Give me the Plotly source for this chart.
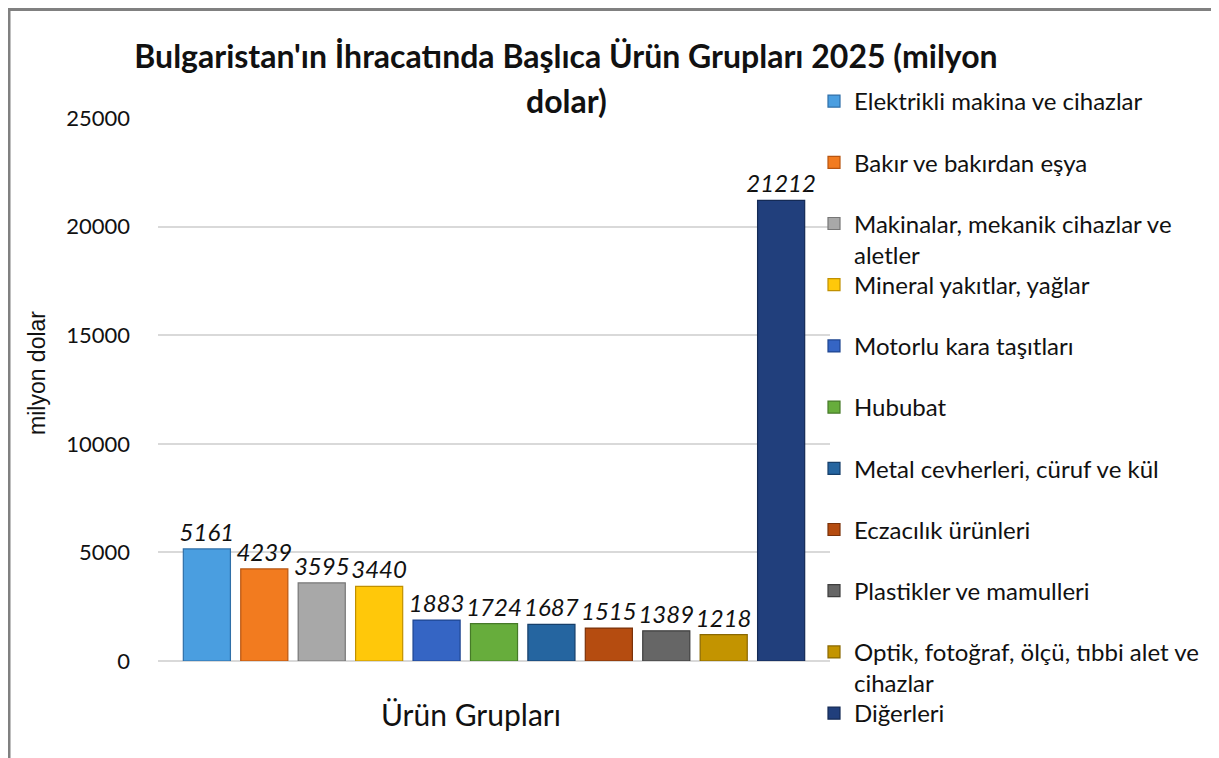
import plotly.graph_objects as go

# ---- data ----
categories = [
    "Elektrikli makina ve cihazlar",
    "Bakır ve bakırdan eşya",
    "Makinalar, mekanik cihazlar ve<br>aletler",
    "Mineral yakıtlar, yağlar",
    "Motorlu kara taşıtları",
    "Hububat",
    "Metal cevherleri, cüruf ve kül",
    "Eczacılık ürünleri",
    "Plastikler ve mamulleri",
    "Optik, fotoğraf, ölçü, tıbbi alet ve<br>cihazlar",
    "Diğerleri",
]
values = [5161, 4239, 3595, 3440, 1883, 1724, 1687, 1515, 1389, 1218, 21212]
group_label = ["Ürün Grupları"]
y_ticks = [0, 5000, 10000, 15000, 20000, 25000]
y_tick_text = ["0", "5000", "10000", "15000", "20000", "25000"]

title_line1 = "Bulgaristan'ın İhracatında Başlıca Ürün Grupları 2025 (milyon"
title_line2 = "dolar)"
y_title = "milyon dolar"

# ---- styles ----
colors = ["#4a9ee0", "#f27b1f", "#a8a8a8", "#ffc80a", "#3565c4", "#67ad3c",
          "#2565a0", "#b54c10", "#666666", "#c39400", "#213f7c"]
line_colors = ["#2f6fa8", "#b85510", "#767676", "#c09000", "#1e4590", "#467a28",
               "#163f6a", "#7a320a", "#3e3e3e", "#8a6800", "#142a55"]

OFF = 8                      # page body margin
W, H = 1219 - OFF, 758 - OFF
# plot area in screen pixels
SL, SR, ST, SB = 158, 830, 118, 661
font = "Lato, 'Open Sans', sans-serif"
black = "#111111"

def px_x(px):
    return (px - SL) / (SR - SL)

def px_y(py):
    return (SB - py) / (SB - ST)

fig = go.Figure()
legend_layout = {}
slot0, slot_step = 102, 61.2
for i, (name, v) in enumerate(zip(categories, values)):
    lg = "legend" if i == 0 else f"legend{i+1}"
    fig.add_trace(go.Bar(
        x=group_label, y=[v], name=name,
        marker=dict(color=colors[i], line=dict(color=line_colors[i], width=1.2)),
        text=[str(v)], textposition="outside", constraintext="none",
        textfont=dict(family=font, size=24, color=black, style="italic"),
        cliponaxis=False, legend=lg, showlegend=True,
    ))
    legend_layout[lg] = dict(
        x=px_x(814), y=px_y(slot0 + i * slot_step - 23),
        xanchor="left", yanchor="top", valign="top",
        bgcolor="rgba(0,0,0,0)", borderwidth=0,
        font=dict(family=font, size=24, color=black),
    )

fig.update_layout(
    width=W, height=H,
    margin=dict(l=SL - OFF, r=(W + OFF) - SR, t=ST - OFF, b=(H + OFF) - SB),
    paper_bgcolor="white", plot_bgcolor="white",
    barmode="group", bargap=0.06, bargroupgap=0.18,
    title=dict(text=f"<b>{title_line1}</b>", x=(566 - OFF) / W, xanchor="center",
               xref="container", y=1 - (57 - OFF) / H, yref="container",
               yanchor="middle",
               font=dict(family=font, size=32, color=black)),
    font=dict(family=font, color=black),
    **legend_layout,
)
fig.add_annotation(text=f"<b>{title_line2}</b>", xref="paper", yref="paper",
                   x=px_x(566), y=px_y(100), xanchor="center", yanchor="middle",
                   showarrow=False, font=dict(family=font, size=32, color=black))
fig.add_annotation(text=y_title, xref="paper", yref="paper", textangle=-90,
                   x=px_x(37), y=px_y(373), xanchor="center", yanchor="middle",
                   showarrow=False,
                   font=dict(family="'Liberation Sans', Arial, sans-serif",
                             size=23, color=black))
# category label under the bar group
fig.add_annotation(text=group_label[0], xref="paper", yref="paper",
                   x=px_x(471), y=px_y(714), xanchor="center", yanchor="middle",
                   showarrow=False, font=dict(family=font, size=30, color=black))

fig.update_yaxes(range=[0, 25000], tickvals=y_ticks, ticktext=y_tick_text,
                 showgrid=True, gridcolor="#d9d9d9", gridwidth=1.5, zeroline=True,
                 zerolinecolor="#d9d9d9", zerolinewidth=1.5, showline=False,
                 ticks="", ticklabelstandoff=27,
                 tickfont=dict(family=font, size=22, color=black))
fig.update_xaxes(showgrid=False, showline=False, ticks="", showticklabels=False)

# chart frame
fig.add_shape(type="rect", xref="paper", yref="paper",
              x0=px_x(9), x1=px_x(1213), y0=px_y(790), y1=px_y(9.5),
              line=dict(color="#808080", width=3), fillcolor="rgba(0,0,0,0)",
              layer="below")

fig.write_html("out.html")
